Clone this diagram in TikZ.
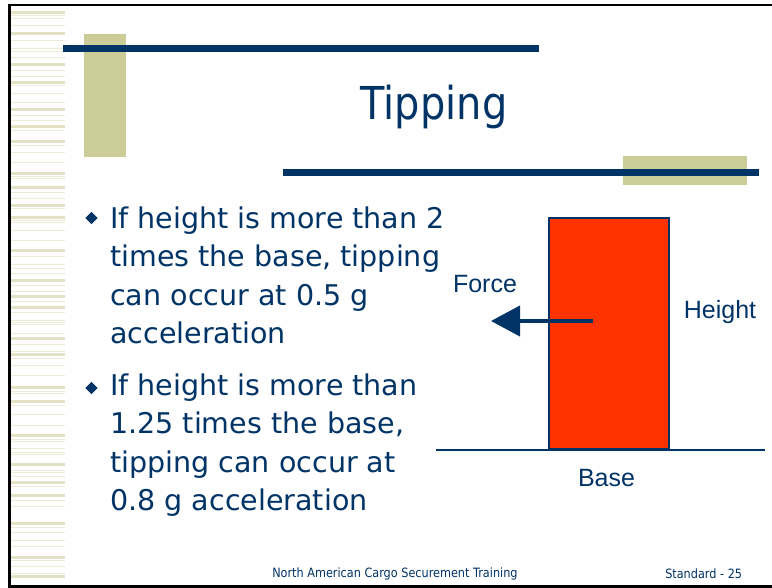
\documentclass[tikz,border=0pt]{standalone}
\usepackage{fontspec}
\setmainfont{DejaVu Sans}
\newfontfamily\tahomaish{DejaVu Sans}[FakeStretch=0.88]
\newfontfamily\arialish{Liberation Sans}
\usetikzlibrary{shapes.geometric,arrows.meta}
\definecolor{navy}{HTML}{003366}
\definecolor{khaki}{HTML}{CCCC99}
\definecolor{stripeA}{HTML}{E3E1C4}
\definecolor{stripeB}{HTML}{ECEBD6}
\definecolor{boxred}{HTML}{FF3300}
\tikzset{
  bodytext/.style={text=navy, inner sep=0pt, align=left, font=\fontsize{21.4}{28.7}\selectfont},
  lbl/.style={text=navy, inner sep=0pt, font=\arialish\fontsize{18.75}{22}\selectfont},
  foot/.style={text=navy, inner sep=0pt, font=\tahomaish\fontsize{9.6}{12}\selectfont},
  bulletmark/.style={diamond, fill=navy, inner sep=0pt, minimum size=9.5pt},
  forcearrow/.style={draw=navy, line width=3pt, -{Triangle[length=21.75pt,width=22.5pt]}},
}
\begin{document}
\begin{tikzpicture}[x=0.75pt,y=-0.75pt]
\useasboundingbox (0,0) rectangle (772,588);
\fill[white] (0,0) rectangle (772,588);
% left stripes
\foreach \yy in {11,32,63,81,108,125,140,172,186,204,216,249,279,295,306,337,353,386,400,434,463,481,494,522,556,575}
  \fill[stripeA] (10,\yy) rectangle (65,\yy+3);
\foreach \yy in {15,18,25,40,48,51,57,70,76,85,93,102,115,120,130,145,152,162,176,178,192,198,208,220,222,230,240,256,264,268,273,285,291,301,312,320,322,324,333,344,351,358,365,375,391,393,405,414,425,439,441,448,452,454,470,472,476,486,500,506,527,532,540,546,560,566,573}
  \fill[stripeB] (10,\yy) rectangle (65,\yy+1);
% frame
\fill[black] (8,4) rectangle (772,6.5);
\fill[black] (8,4) rectangle (10.5,588);
\fill[black] (8,585) rectangle (772,588);
% decoration bars
\fill[khaki] (84,34) rectangle (126,157);
\fill[navy] (63,45) rectangle (539,52);
\fill[khaki] (623,156) rectangle (747,185);
\fill[navy] (283,169) rectangle (759,176);
% title
\node[anchor=base, text=navy, inner sep=0pt, font=\tahomaish\fontsize{34}{40}\selectfont] (title) at (434,120) {Tipping};
% bullets (base anchor = baseline of last line)
\node[bulletmark] (m1) at (91.5,218) {};
\node[bodytext, anchor=base west] (t1) at (110,343.5) {If height is more than 2\\times the base, tipping\\can occur at 0.5 g\\acceleration};
\node[bulletmark] (m2) at (91.5,388) {};
\node[bodytext, anchor=base west] (t2) at (110,510.5) {If height is more than\\1.25 times the base,\\tipping can occur at\\0.8 g acceleration};
% diagram
\draw[navy, line width=1.5pt] (436,450) -- (765,450);
\draw[navy, line width=1.2pt, fill=boxred] (549,218) rectangle (669,449);
\coordinate (fstart) at (593,321);
\coordinate (ftip) at (491,321);
\draw[forcearrow] (fstart) -- (ftip);
\node[lbl, anchor=base] (force) at (485,293) {Force};
\node[lbl, anchor=base] (height) at (720,319) {Height};
\node[lbl, anchor=base] (base) at (606.5,486) {Base};
% footer
\node[foot, anchor=base west] (f1) at (272,577) {North American Cargo Securement Training};
\node[foot, anchor=base west] (f2) at (665,578) {Standard - 25};
\end{tikzpicture}
\end{document}
